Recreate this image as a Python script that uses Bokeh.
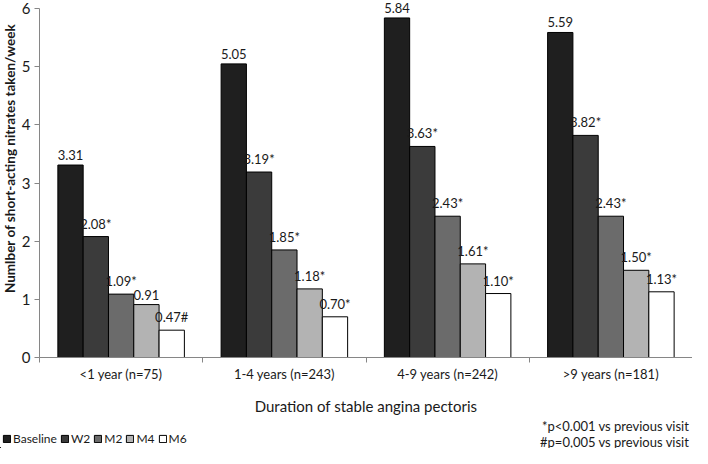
import math
from bokeh.plotting import figure
from bokeh.layouts import column, row
from bokeh.models import (ColumnDataSource, FixedTicker, Label, LabelSet, Legend,
                          LegendItem, Range1d)
from bokeh.core.properties import value
from bokeh.embed import file_html
from bokeh.resources import INLINE

categories = ["<1 year (n=75)", "1-4 years (n=243)", "4-9 years (n=242)", ">9 years (n=181)"]
series = ["Baseline", "W2", "M2", "M4", "M6"]
baseline = [3.31, 5.05, 5.84, 5.59]
w2 = [2.08, 3.19, 3.63, 3.82]
m2 = [1.09, 1.85, 2.43, 2.43]
m4 = [0.91, 1.18, 1.61, 1.50]
m6 = [0.47, 0.70, 1.10, 1.13]
marks_baseline = ["", "", "", ""]
marks_w2 = ["*", "*", "*", "*"]
marks_m2 = ["*", "*", "*", "*"]
marks_m4 = ["", "*", "*", "*"]
marks_m6 = ["#", "*", "*", "*"]
y_ticks = [0, 1, 2, 3, 4, 5, 6]
colors = ["#1f1f1f", "#3b3b3b", "#6b6b6b", "#b3b3b3", "#ffffff"]
y_title = "Numlber of short-acting  nitrates taken/week"
x_title = "Duration of stable angina pectoris"
footnotes = ["*p<0.001 vs previous visit", "#p=0,005 vs previous visit"]

values = [baseline, w2, m2, m4, m6]
marks = [marks_baseline, marks_w2, marks_m2, marks_m4, marks_m6]

FONT = "Lato"
TXT = "#1a1a1a"
AX = "#868686"
BAR_W = 0.155
H1 = 418
LW = 18


def blank(w, h):
    f = figure(width=w, height=h, x_range=Range1d(0, w), y_range=Range1d(0, h),
               output_backend="svg", toolbar_location=None,
               x_axis_location=None, y_axis_location=None,
               min_border_left=0, min_border_right=0, min_border_top=0, min_border_bottom=0)
    f.xgrid.visible = False
    f.ygrid.visible = False
    f.outline_line_color = None
    return f


# left strip: y-axis title
left = blank(LW, H1)
left.add_layout(Label(x=9, y=H1 - 183, text=y_title, angle=math.pi / 2,
                      text_align="center", text_baseline="middle",
                      text_font=FONT, text_font_size="13.5px", text_font_style="bold",
                      text_color=TXT))

p = figure(width=692 - LW, height=H1, x_range=Range1d(0, 4), y_range=Range1d(0, 6.14),
           output_backend="svg", toolbar_location=None,
           min_border_left=38 - LW, min_border_right=0, min_border_top=0, min_border_bottom=61)
p.xgrid.visible = False
p.ygrid.visible = False
p.outline_line_color = None

for k, name in enumerate(series):
    xs = [i + 0.5 + (k - 2) * BAR_W for i in range(len(categories))]
    txt = ["%.2f%s" % (v, m) for v, m in zip(values[k], marks[k])]
    src = ColumnDataSource(dict(x=xs, top=values[k], text=txt))
    p.vbar(x="x", top="top", bottom=0, width=BAR_W, source=src,
           fill_color=colors[k], line_color="#000000", line_width=1)
    p.add_layout(LabelSet(x="x", y="top", text="text", source=src, y_offset=5,
                          text_align="center", text_baseline="bottom",
                          text_font=value(FONT), text_font_size=value("13px"),
                          text_color=TXT))

xa = p.xaxis[0]
xa.ticker = FixedTicker(ticks=[i + 0.5 for i in range(len(categories))],
                        minor_ticks=list(range(len(categories) + 1)))
xa.major_label_overrides = {i + 0.5: c for i, c in enumerate(categories)}
xa.major_tick_out = 0
xa.major_tick_in = 0
xa.minor_tick_out = 5
xa.minor_tick_in = 0
xa.minor_tick_line_color = AX
xa.axis_line_color = AX
xa.major_label_text_font = FONT
xa.major_label_text_font_size = "13px"
xa.major_label_text_color = TXT
xa.major_label_standoff = 3
xa.axis_label = x_title
xa.axis_label_text_font = FONT
xa.axis_label_text_font_size = "15px"
xa.axis_label_text_font_style = "normal"
xa.axis_label_text_color = TXT
xa.axis_label_standoff = 12

ya = p.yaxis[0]
ya.ticker = FixedTicker(ticks=y_ticks)
ya.bounds = (0, 6)
ya.major_tick_out = 5
ya.major_tick_in = 0
ya.minor_tick_out = 0
ya.minor_tick_in = 0
ya.axis_line_color = AX
ya.major_tick_line_color = AX
ya.major_label_text_font = FONT
ya.major_label_text_font_size = "15px"
ya.major_label_text_color = TXT
ya.major_label_standoff = 4

# bottom strip: legend and footnotes (pixel coordinates)
q = blank(692, 448 - H1)
items = []
for k, name in enumerate(series):
    r = q.vbar(x=[-100], top=[1], width=1, fill_color=colors[k],
               line_color="#000000", line_width=1)
    items.append(LegendItem(label=name, renderers=[r]))

q.add_layout(Label(x=689, y=23, text=footnotes[0], text_align="right", text_baseline="middle",
                   text_font=FONT, text_font_size="13px", text_color=TXT))
q.add_layout(Label(x=689, y=7, text=footnotes[1], text_align="right", text_baseline="middle",
                   text_font=FONT, text_font_size="13px", text_color=TXT))

legend = Legend(items=items, orientation="horizontal", location=(2, 2),
                glyph_width=9, glyph_height=9, label_standoff=2, spacing=3,
                padding=0, margin=0, label_height=12, label_width=0,
                label_text_font=FONT, label_text_font_size="12px", label_text_color=TXT,
                border_line_color=None, background_fill_alpha=0)
q.add_layout(legend, "center")

layout = column(row(left, p, spacing=0), q, spacing=0)
open("out.html", "w").write(file_html(layout, INLINE))
